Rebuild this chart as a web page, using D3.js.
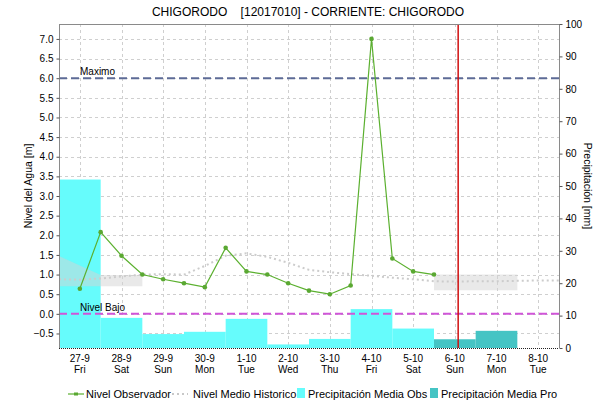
<!DOCTYPE html>
<html>
<head>
<meta charset="utf-8">
<script src="https://d3js.org/d3.v7.min.js"></script>
<style>
  body { margin: 0; background: #fff; }
  svg text { font-family: 'Liberation Sans', Arial, sans-serif; fill: #000; }
</style>
</head>
<body>
<div id="chart"></div>
<script>
// ---- data ----
var days = ["27-9", "28-9", "29-9", "30-9", "1-10", "2-10", "3-10", "4-10", "5-10", "6-10", "7-10", "8-10"];
var weekdays = ["Fri", "Sat", "Sun", "Mon", "Tue", "Wed", "Thu", "Fri", "Sat", "Sun", "Mon", "Tue"];

// observed level every 12 h starting 27-9 (m)
var nivelObs = [0.64, 2.08, 1.48, 1.0, 0.88, 0.78, 0.68, 1.68, 1.08, 1.0, 0.78, 0.59, 0.5, 0.72, 7.0, 1.41, 1.08, 1.0];

// historic mean every 12 h starting half a day before 27-9 (m)
var nivelHist = [0.88, 0.87, 0.9, 0.95, 1.0, 1.01, 1.0, 1.22, 1.48, 1.54, 1.45, 1.3, 1.12,
                 1.06, 1.01, 0.97, 0.92, 0.88, 0.83, 0.82, 0.83, 0.83, 0.84, 0.85, 0.85];

// historic band (day index, low, high)
var bandA = [[-0.5, 0.7, 1.47], [0.5, 0.7, 0.99], [1.5, 0.7, 0.99]];
var bandB = [[8.5, 0.6, 1.0], [10.5, 0.6, 1.0]];

// daily precipitation (mm), observed then forecast
var precipObs = [52, 9.3, 4.3, 5.0, 9.0, 1.1, 2.8, 12.0, 6.0];
var precipPro = [2.7, 5.3];
var proStart = 9; // first forecast day index

var nivelMax = 6.0, nivelBajo = 0.0;
var ahora = 9.08; // current time (day index)

var leftTicks = d3.range(-0.5, 7.01, 0.5);
var rightTicks = d3.range(0, 101, 10);

// ---- layout ----
var W = 595, H = 401;
var L = 59, R = 559, T = 24, B = 348;

var svg = d3.select("#chart").append("svg")
  .attr("width", W).attr("height", H);

var x = d3.scaleLinear().domain([-0.5, 11.5]).range([L, R]);
var y = d3.scaleLinear().domain([-0.87, 7.38]).range([B, T]);
var y2 = d3.scaleLinear().domain([0, 100]).range([B, T]);

// title
svg.append("text")
  .attr("x", 308).attr("y", 16)
  .attr("text-anchor", "middle")
  .style("font-size", "12px")
  .style("white-space", "pre")
  .text("CHIGORODO    [12017010] - CORRIENTE: CHIGORODO");

// grid
var grid = svg.append("g")
  .attr("stroke", "#cfcfcf").attr("stroke-dasharray", "3,3").attr("stroke-width", 1);
grid.selectAll(".h").data(leftTicks).enter().append("line")
  .attr("x1", L).attr("x2", R)
  .attr("y1", function (d) { return Math.round(y(d)) + 0.5; })
  .attr("y2", function (d) { return Math.round(y(d)) + 0.5; });
grid.selectAll(".v").data(days).enter().append("line")
  .attr("y1", T).attr("y2", B)
  .attr("x1", function (d, i) { return Math.round(x(i)) + 0.5; })
  .attr("x2", function (d, i) { return Math.round(x(i)) + 0.5; });

// precipitation bars
function bars(vals, offset, color) {
  svg.append("g").selectAll("rect").data(vals).enter().append("rect")
    .attr("x", function (d, i) { return x(offset + i - 0.5); })
    .attr("width", x(1) - x(0))
    .attr("y", function (d) { return y2(d); })
    .attr("height", function (d) { return B - y2(d); })
    .attr("fill", color);
}
bars(precipObs, 0, "#66fcfc");
bars(precipPro, proStart, "#45c4c4");

// historic band
var band = d3.area()
  .x(function (d) { return x(d[0]); })
  .y0(function (d) { return y(d[1]); })
  .y1(function (d) { return y(d[2]); });
[bandA, bandB].forEach(function (b) {
  svg.append("path").attr("d", band(b))
    .attr("fill", "#d4d4d4").attr("opacity", 0.5);
});

// historic mean
var histLine = d3.line()
  .x(function (d, i) { return x(-0.5 + i * 0.5); })
  .y(function (d) { return y(d); });
svg.append("path").datum(nivelHist)
  .attr("d", histLine)
  .attr("fill", "none").attr("stroke", "#cccccc")
  .attr("stroke-width", 2).attr("stroke-dasharray", "2,3");

// maximo / nivel bajo
svg.append("line")
  .attr("x1", L).attr("x2", R).attr("y1", y(nivelMax)).attr("y2", y(nivelMax))
  .attr("stroke", "#5d6b96").attr("stroke-width", 2).attr("stroke-dasharray", "8,4");
svg.append("text").attr("x", 80).attr("y", y(nivelMax) - 3)
  .style("font-size", "10px").text("Maximo");
svg.append("line")
  .attr("x1", L).attr("x2", R).attr("y1", y(nivelBajo)).attr("y2", y(nivelBajo))
  .attr("stroke", "#d055d8").attr("stroke-width", 2).attr("stroke-dasharray", "8,4");
svg.append("text").attr("x", 80).attr("y", y(nivelBajo) - 3)
  .style("font-size", "10px").text("Nivel Bajo");

// observed level
var obsLine = d3.line()
  .x(function (d, i) { return x(i * 0.5); })
  .y(function (d) { return y(d); });
svg.append("path").datum(nivelObs)
  .attr("d", obsLine)
  .attr("fill", "none").attr("stroke", "#5bb02f").attr("stroke-width", 1.2);
svg.append("g").selectAll("circle").data(nivelObs).enter().append("circle")
  .attr("cx", function (d, i) { return x(i * 0.5); })
  .attr("cy", function (d) { return y(d); })
  .attr("r", 2.3)
  .attr("fill", "#5aa832");

// now marker
svg.append("line")
  .attr("x1", x(ahora)).attr("x2", x(ahora)).attr("y1", T).attr("y2", B)
  .attr("stroke", "#d01010").attr("stroke-width", 1.5);

// frame
svg.append("line").attr("x1", L).attr("x2", R).attr("y1", T + 0.5).attr("y2", T + 0.5)
  .attr("stroke", "#8a8a8a");
svg.append("line").attr("x1", L + 0.5).attr("x2", L + 0.5).attr("y1", T).attr("y2", B)
  .attr("stroke", "#8a8a8a");
svg.append("line").attr("x1", R + 0.5).attr("x2", R + 0.5).attr("y1", T).attr("y2", B)
  .attr("stroke", "#8a8a8a");
svg.append("line").attr("x1", L).attr("x2", R).attr("y1", B + 0.5).attr("y2", B + 0.5)
  .attr("stroke", "#222").attr("stroke-dasharray", "1,1");

// left axis
var gl = svg.append("g").attr("transform", "translate(" + (L + 0.5) + ",0)")
  .call(d3.axisLeft(y).tickValues(leftTicks).tickSize(3).tickFormat(d3.format(".1f")));
gl.select(".domain").remove();
gl.selectAll(".tick line").attr("stroke", "#555");
gl.selectAll(".tick text").style("font-size", "10px").attr("fill", "#000")
  .attr("font-family", null);

// right axis
var gr = svg.append("g").attr("transform", "translate(" + (R + 0.5) + ",0)")
  .call(d3.axisRight(y2).tickValues(rightTicks).tickSize(3));
gr.select(".domain").remove();
gr.selectAll(".tick line").attr("stroke", "#555");
gr.selectAll(".tick text").style("font-size", "10px").attr("fill", "#000")
  .attr("font-family", null);

// bottom axis labels
var gb = svg.append("g");
gb.selectAll(".d").data(days).enter().append("text")
  .attr("x", function (d, i) { return x(i); }).attr("y", 362)
  .attr("text-anchor", "middle").style("font-size", "10px")
  .text(function (d) { return d; });
gb.selectAll(".w").data(weekdays).enter().append("text")
  .attr("x", function (d, i) { return x(i); }).attr("y", 373)
  .attr("text-anchor", "middle").style("font-size", "10px")
  .text(function (d) { return d; });

// axis titles
svg.append("text")
  .attr("transform", "translate(32," + ((T + B) / 2) + ") rotate(-90)")
  .attr("text-anchor", "middle").style("font-size", "10.5px")
  .text("Nivel del Agua [m]");
svg.append("text")
  .attr("transform", "translate(584," + ((T + B) / 2) + ") rotate(90)")
  .attr("text-anchor", "middle").style("font-size", "10.5px")
  .text("Precipitación [mm]");

// legend
var lg = svg.append("g").style("font-size", "11px");
lg.append("line").attr("x1", 68).attr("x2", 84).attr("y1", 394).attr("y2", 394)
  .attr("stroke", "#5bb02f").attr("stroke-width", 1.2);
lg.append("rect").attr("x", 74).attr("y", 392.5).attr("width", 4).attr("height", 3)
  .attr("fill", "#5aa832");
lg.append("text").attr("x", 86).attr("y", 398).text("Nivel Observador");
lg.append("line").attr("x1", 172).attr("x2", 188).attr("y1", 394).attr("y2", 394)
  .attr("stroke", "#c8c8c8").attr("stroke-width", 2).attr("stroke-dasharray", "2,3");
lg.append("text").attr("x", 193).attr("y", 398).text("Nivel Medio Historico");
lg.append("rect").attr("x", 297).attr("y", 388).attr("width", 8).attr("height", 10)
  .attr("fill", "#66fcfc");
lg.append("text").attr("x", 308).attr("y", 398).text("Precipitación Media Obs");
lg.append("rect").attr("x", 430).attr("y", 388).attr("width", 8).attr("height", 10)
  .attr("fill", "#45c4c4");
lg.append("text").attr("x", 441).attr("y", 398).text("Precipitación Media Pro");
</script>
</body>
</html>
